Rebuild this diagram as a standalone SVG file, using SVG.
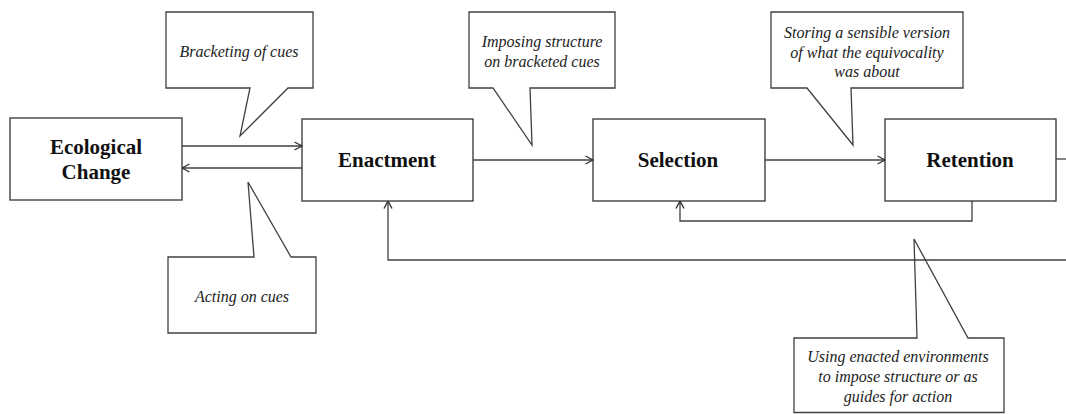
<svg xmlns="http://www.w3.org/2000/svg" width="1066" height="414" viewBox="0 0 1066 414">
<style>
.box{fill:#fff;stroke:#404040;stroke-width:1.4}
.call{fill:#fff;stroke:#404040;stroke-width:1.3;stroke-linejoin:miter}
.lbl{font-family:"Liberation Serif","Times New Roman",serif;font-weight:bold;font-size:21px;fill:#111;text-anchor:middle}
.note{font-family:"Liberation Serif","Times New Roman",serif;font-style:italic;font-size:16px;fill:#222;text-anchor:middle}
.con{fill:none;stroke:#404040;stroke-width:1.3}
</style>
<defs>
<marker id="arr" viewBox="0 0 10 10" refX="9.5" refY="5" markerWidth="10" markerHeight="10" markerUnits="userSpaceOnUse" orient="auto">
<path d="M2,1 L9.5,5 L2,9" fill="none" stroke="#333" stroke-width="1.4"/>
</marker>
</defs>
<g id="callout-bracketing">
<path class="call" d="M166,12 H313 V88 H288 L240,136 L250,88 H166 Z"/>
<text class="note" x="239" y="57">Bracketing of cues</text>
</g>
<g id="callout-imposing">
<path class="call" d="M469,12 H615 V88 H530 L532,145 L493,88 H469 Z"/>
<text class="note" x="542" y="47">Imposing structure</text>
<text class="note" x="542" y="67">on bracketed cues</text>
</g>
<g id="callout-storing">
<path class="call" d="M771,12 H963 V88 H851 L853,145 L807,88 H771 Z"/>
<text class="note" x="867" y="38">Storing a sensible version</text>
<text class="note" x="867" y="58">of what the equivocality</text>
<text class="note" x="867" y="77">was about</text>
</g>
<g id="callout-acting">
<path class="call" d="M168,257 H254 L248,182 L291,257 H316 V333 H168 Z"/>
<text class="note" x="242" y="302">Acting on cues</text>
</g>
<g id="callout-using">
<path class="call" d="M794,338 H917 L914,239 L968,338 H1004 V412.5 H794 Z"/>
<text class="note" x="898" y="362">Using enacted environments</text>
<text class="note" x="898" y="382">to impose structure or as</text>
<text class="note" x="898" y="402">guides for action</text>
</g>
<g id="node-ecological">
<rect class="box" x="10" y="118" width="172" height="82"/>
<text class="lbl" x="96" y="154">Ecological</text>
<text class="lbl" x="96" y="179">Change</text>
</g>
<g id="node-enactment">
<rect class="box" x="302" y="119" width="171" height="82"/>
<text class="lbl" x="387" y="167">Enactment</text>
</g>
<g id="node-selection">
<rect class="box" x="593" y="119" width="172" height="82"/>
<text class="lbl" x="678" y="167">Selection</text>
</g>
<g id="node-retention">
<rect class="box" x="885" y="119" width="171" height="82"/>
<text class="lbl" x="970" y="167">Retention</text>
</g>
<g id="connectors">
<path class="con" d="M182,146 H302" marker-end="url(#arr)"/>
<path class="con" d="M302,168 H182" marker-end="url(#arr)"/>
<path class="con" d="M473,160 H593" marker-end="url(#arr)"/>
<path class="con" d="M765,160 H885" marker-end="url(#arr)"/>
<path class="con" d="M1056,159 H1066"/>
<path class="con" d="M972,201 V221 H680 V201" marker-end="url(#arr)"/>
<path class="con" d="M1066,260 H388 V201" marker-end="url(#arr)"/>
</g>
</svg>
